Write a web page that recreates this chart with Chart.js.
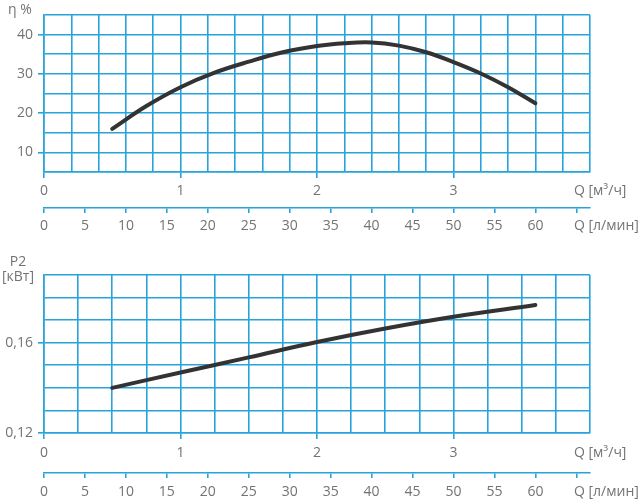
<!DOCTYPE html>
<html lang="ru">
<head>
<meta charset="UTF-8">
<title>Pump curves</title>
<script src="https://cdn.jsdelivr.net/npm/chart.js"></script>
<style>
    * { margin: 0; padding: 0; box-sizing: border-box; }
    body { width: 640px; height: 503px; background: #fff; position: relative; overflow: hidden; }
    .chart-box { position: absolute; left: 0; width: 640px; }
    #effBox { top: 0; height: 240px; }
    #powBox { top: 240px; height: 263px; }
</style>
</head>
<body>
<div class="chart-box" id="effBox"><canvas id="effChart"></canvas></div>
<div class="chart-box" id="powBox"><canvas id="powChart"></canvas></div>

<script>
// efficiency curve (top), Q in m3/h
const effFlow = [0.5, 0.75, 1.0, 1.25, 1.5, 1.75, 2.0, 2.2, 2.4, 2.6, 2.8, 3.0, 3.2, 3.4, 3.6];
const efficiency = [16, 21.8, 26.6, 30.3, 33.1, 35.5, 37.1, 37.8, 38.0, 37.2, 35.5, 33.0, 30.1, 26.6, 22.5];

// power curve (bottom), Q in m3/h
const powFlow = [0.5, 1.0, 1.5, 2.0, 2.5, 3.0, 3.6];
const power = [0.140, 0.1468, 0.1535, 0.1603, 0.1663, 0.1715, 0.1767];

// tick labels
const m3hLabels = [0, 1, 2, 3];
const lminLabels = [0, 5, 10, 15, 20, 25, 30, 35, 40, 45, 50, 55, 60];
const lminMarks = [0, 5, 10, 15, 20, 25, 30, 35, 40, 45, 50, 55, 60, 65];
const etaLabels = [10, 20, 30, 40];
const p2Labels = [0.12, 0.16];

const gridBlue = '#27a4dc';
const textGrey = '#737373';
const curveGrey = '#333333';
const fontFamily = "'Open Sans', sans-serif";

Chart.defaults.font.family = fontFamily;
Chart.defaults.font.size = 14;
Chart.defaults.color = textGrey;

function isOn(v, list) {
    return list.some(t => Math.abs(t - v) < 1e-6);
}

// axis unit captions, drawn next to the scales
const unitLabels = {
    id: 'unitLabels',
    afterDraw(chart, args, opts) {
        const ctx = chart.ctx;
        ctx.save();
        ctx.font = '14px ' + fontFamily;
        ctx.fillStyle = textGrey;
        ctx.textBaseline = 'middle';
        opts.items.forEach(it => {
            let x, y;
            if (it.axis) {
                const sc = chart.scales[it.axis];
                x = sc.right + it.dx;
                y = sc.top + sc.options.grid.tickLength + sc.options.ticks.padding + 8;
            } else {
                x = chart.chartArea.left + it.dx;
                y = chart.chartArea.top + it.dy;
            }
            ctx.textAlign = it.align || 'left';
            ctx.fillText(it.text, x, y);
        });
        ctx.restore();
    }
};

function xScales(step, xPad, x2Pad, xHeight, x2Height) {
    return {
        x: {
            type: 'linear', position: 'bottom', min: 0, max: 4,
            ticks: {
                stepSize: step, padding: xPad, autoSkip: false, maxRotation: 0,
                callback: v => isOn(v, m3hLabels) ? String(Math.round(v)) : ''
            },
            grid: {
                color: gridBlue, lineWidth: 1.6, tickLength: 6,
                tickColor: c => isOn(c.tick.value, m3hLabels) ? gridBlue : 'transparent'
            },
            border: { color: gridBlue, width: 1.6 },
            afterFit: s => { s.height = xHeight; }
        },
        x2: {
            type: 'linear', position: 'bottom', min: 0, max: 4 * 1000 / 60,
            afterBuildTicks: s => { s.ticks = lminMarks.map(v => ({ value: v })); },
            ticks: {
                padding: x2Pad, autoSkip: false, maxRotation: 0,
                callback: v => isOn(v, lminLabels) ? String(v) : ''
            },
            grid: { drawOnChartArea: false, color: gridBlue, lineWidth: 1.6, tickLength: 5 },
            border: { color: gridBlue, width: 1.6 },
            afterFit: s => { s.height = x2Height; }
        }
    };
}

function yScale(min, max, step, labels, fmt) {
    return {
        min: min, max: max,
        ticks: {
            stepSize: step, padding: 5, autoSkip: false,
            callback: v => isOn(v, labels) ? fmt(v) : ''
        },
        grid: {
            color: gridBlue, lineWidth: 1.6, tickLength: 6,
            tickColor: c => isOn(c.tick.value, labels) ? gridBlue : 'transparent'
        },
        border: { color: gridBlue, width: 1.6 },
        afterFit: s => { s.width = 44; }
    };
}

function curve(xs, ys) {
    return {
        data: xs.map((q, i) => ({ x: q, y: ys[i] })),
        borderColor: curveGrey,
        borderWidth: 4,
        borderCapStyle: 'round',
        pointRadius: 0,
        tension: 0.4,
        xAxisID: 'x',
        yAxisID: 'y'
    };
}

const effScales = xScales(0.2, 5, 5, 36, 32);
effScales.y = yScale(5, 45, 5, etaLabels, v => String(v));

new Chart(document.getElementById('effChart'), {
    type: 'line',
    data: { datasets: [curve(effFlow, efficiency)] },
    plugins: [unitLabels],
    options: {
        responsive: true,
        maintainAspectRatio: false,
        animation: false,
        layout: { padding: { top: 15, right: 50, left: 0, bottom: 0 } },
        plugins: {
            legend: { display: false },
            tooltip: { enabled: false },
            unitLabels: {
                items: [
                    { text: 'η %', dx: -24, dy: -5, align: 'center' },
                    { axis: 'x', text: 'Q [м³/ч]', dx: -16 },
                    { axis: 'x2', text: 'Q [л/мин]', dx: -16 }
                ]
            }
        },
        scales: effScales
    }
});

const powScales = xScales(0.25, 6, 6, 40, 30);
powScales.y = yScale(0.12, 0.19, 0.01, p2Labels, v => v.toFixed(2).replace('.', ','));

new Chart(document.getElementById('powChart'), {
    type: 'line',
    data: { datasets: [curve(powFlow, power)] },
    plugins: [unitLabels],
    options: {
        responsive: true,
        maintainAspectRatio: false,
        animation: false,
        layout: { padding: { top: 35, right: 50, left: 0, bottom: 0 } },
        plugins: {
            legend: { display: false },
            tooltip: { enabled: false },
            unitLabels: {
                items: [
                    { text: 'P2', dx: -26, dy: -13, align: 'center' },
                    { text: '[кВт]', dx: -26, dy: 2, align: 'center' },
                    { axis: 'x', text: 'Q [м³/ч]', dx: -16 },
                    { axis: 'x2', text: 'Q [л/мин]', dx: -16 }
                ]
            }
        },
        scales: powScales
    }
});
</script>
</body>
</html>
